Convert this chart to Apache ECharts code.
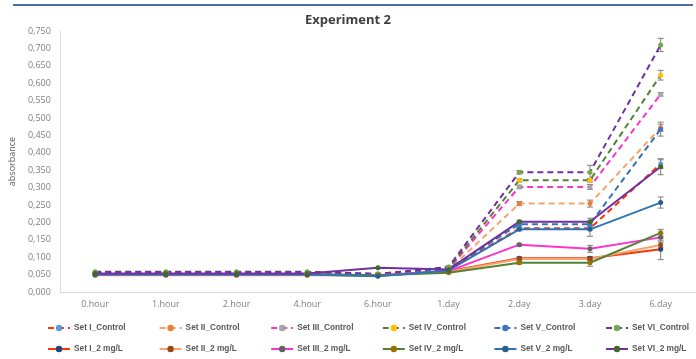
<!DOCTYPE html>
<html><head><meta charset="utf-8">
<script src="https://cdn.jsdelivr.net/npm/echarts@6/dist/echarts.min.js"></script>
<style>html,body{margin:0;padding:0;background:#fff}#c{width:696px;height:359px}</style>
</head><body><div id="c"></div>
<script>
var categories = ['0.hour','1.hour','2.hour','4.hour','6.hour','1.day','2.day','3.day','6.day'];
var seriesNames = ['Set I_Control','Set II_Control','Set III_Control','Set IV_Control','Set V_Control','Set VI_Control',
                   'Set I_2 mg/L','Set II_2 mg/L','Set III_2 mg/L','Set IV_2 mg/L','Set V_2 mg/L','Set VI_2 mg/L'];
var setI_Control   = [0.055,0.055,0.055,0.055,0.050,0.065,0.183,0.183,0.368];
var setII_Control  = [0.052,0.052,0.052,0.052,0.048,0.063,0.254,0.254,0.472];
var setIII_Control = [0.055,0.055,0.055,0.055,0.050,0.066,0.302,0.302,0.568];
var setIV_Control  = [0.054,0.054,0.054,0.054,0.050,0.068,0.321,0.321,0.623];
var setV_Control   = [0.057,0.057,0.057,0.057,0.052,0.066,0.195,0.195,0.468];
var setVI_Control  = [0.058,0.058,0.058,0.058,0.052,0.072,0.344,0.344,0.710];
var setI_2   = [0.050,0.050,0.050,0.050,0.047,0.060,0.097,0.097,0.123];
var setII_2  = [0.048,0.048,0.048,0.048,0.047,0.058,0.095,0.095,0.135];
var setIII_2 = [0.050,0.050,0.050,0.050,0.048,0.060,0.136,0.124,0.157];
var setIV_2  = [0.051,0.051,0.051,0.051,0.048,0.055,0.084,0.084,0.170];
var setV_2   = [0.050,0.050,0.050,0.050,0.045,0.062,0.180,0.180,0.257];
var setVI_2  = [0.053,0.053,0.053,0.053,0.070,0.065,0.202,0.202,0.360];

var errI_Control   = [0,0,0,0,0,0.003,0.004,0.005,0.012];
var errII_Control  = [0,0,0,0,0,0.003,0.006,0.010,0.010];
var errIII_Control = [0,0,0,0,0,0.003,0.005,0.007,0.005];
var errIV_Control  = [0,0,0,0,0,0.003,0.005,0.005,0.014];
var errV_Control   = [0,0,0,0,0,0.003,0.005,0.008,0.020];
var errVI_Control  = [0,0,0,0,0,0.004,0.005,0.020,0.019];
var errI_2   = [0,0,0,0,0,0.002,0.004,0.005,0.030];
var errII_2  = [0,0,0,0,0,0.002,0.004,0.005,0.008];
var errIII_2 = [0,0,0,0,0,0.002,0.004,0.010,0.010];
var errIV_2  = [0,0,0,0,0,0.002,0.004,0.010,0.010];
var errV_2   = [0,0,0,0,0,0.002,0.004,0.020,0.016];
var errVI_2  = [0,0,0,0,0,0.002,0.004,0.010,0.023];

var values = [setI_Control,setII_Control,setIII_Control,setIV_Control,setV_Control,setVI_Control,
              setI_2,setII_2,setIII_2,setIV_2,setV_2,setVI_2];
var errors = [errI_Control,errII_Control,errIII_Control,errIV_Control,errV_Control,errVI_Control,
              errI_2,errII_2,errIII_2,errIV_2,errV_2,errVI_2];
var lineColors = ['#FF3300','#F4A46C','#FF33CC','#548235','#2E75B6','#7030A0',
                  '#FF3300','#F4A46C','#FF33CC','#548235','#2E75B6','#7030A0'];
var markerColors = ['#5B9BD5','#ED7D31','#A5A5A5','#FFC000','#4472C4','#70AD47',
                    '#264478','#9E480E','#636363','#997300','#255E91','#43682B'];

var chart = echarts.init(document.getElementById('c'));
var series = [];
var legends = [];
values.forEach(function(v,i){
  var dashed = i < 6;
  series.push({
    name: seriesNames[i], type:'line', data: v,
    symbol:'circle', symbolSize:5, z: 3,
    lineStyle:{color:lineColors[i], width:2, type: dashed ? [6,4] : 'solid'},
    itemStyle:{color:markerColors[i]},
    emphasis:{disabled:true}
  });
  var row = i < 6 ? 0 : 1, col = i % 6;
  legends.push({
    data:[seriesNames[i]], left: 47 + col*111.6, top: row===0 ? 324 : 345,
    itemWidth:22, itemHeight:8, itemGap:0, padding:0,
    textStyle:{fontSize:8.3, fontWeight:'bold', color:'#595959', fontFamily:'Liberation Sans Narrow, Liberation Sans, sans-serif', padding:[0,0,0,-1]}
  });
});
var errData = [];
values.forEach(function(v,i){
  v.forEach(function(y,j){ if (errors[i][j] > 0) errData.push([j, y - errors[i][j], y + errors[i][j]]); });
});
series.push({
  type:'custom', z: 2, silent:true,
  data: errData,
  renderItem: function(params, api){
    var lo = api.coord([api.value(0), api.value(1)]);
    var hi = api.coord([api.value(0), api.value(2)]);
    var st = {stroke:'#7F7F7F', lineWidth:1};
    return {type:'group', children:[
      {type:'line', shape:{x1:lo[0],y1:lo[1],x2:hi[0],y2:hi[1]}, style:st},
      {type:'line', shape:{x1:lo[0]-3,y1:lo[1],x2:lo[0]+3,y2:lo[1]}, style:st},
      {type:'line', shape:{x1:hi[0]-3,y1:hi[1],x2:hi[0]+3,y2:hi[1]}, style:st}
    ]};
  }
});

chart.setOption({
  animation:false,
  title:{text:'Experiment 2', left:'center', top:9,
    textStyle:{fontSize:13, fontWeight:'bold', color:'#404040', fontFamily:'Open Sans, sans-serif'}},
  graphic:[{type:'line', shape:{x1:13,y1:5,x2:693,y2:5}, style:{stroke:'#4F6BB0', lineWidth:2}}],
  legend: legends,
  grid:{left:57, right:-4, top:31, bottom:67},
  xAxis:{type:'category', data:categories, boundaryGap:true,
    axisLine:{lineStyle:{color:'#D9D9D9'}}, axisTick:{show:false},
    axisLabel:{color:'#7F7F7F', fontSize:9, margin:8, fontFamily:'Open Sans, sans-serif'}},
  yAxis:{type:'value', min:0, max:0.75, interval:0.05,
    name:'absorbance', nameLocation:'middle', nameGap:34, nameRotate:90,
    nameTextStyle:{color:'#595959', fontSize:9, fontFamily:'Open Sans, sans-serif'},
    axisLine:{show:true, lineStyle:{color:'#D9D9D9'}}, axisTick:{show:false}, splitLine:{show:false},
    axisLabel:{color:'#7F7F7F', fontSize:9, margin:9, fontFamily:'Open Sans, sans-serif',
      formatter:function(v){return v.toFixed(3).replace('.',',');}}},
  series: series
});
</script></body></html>
